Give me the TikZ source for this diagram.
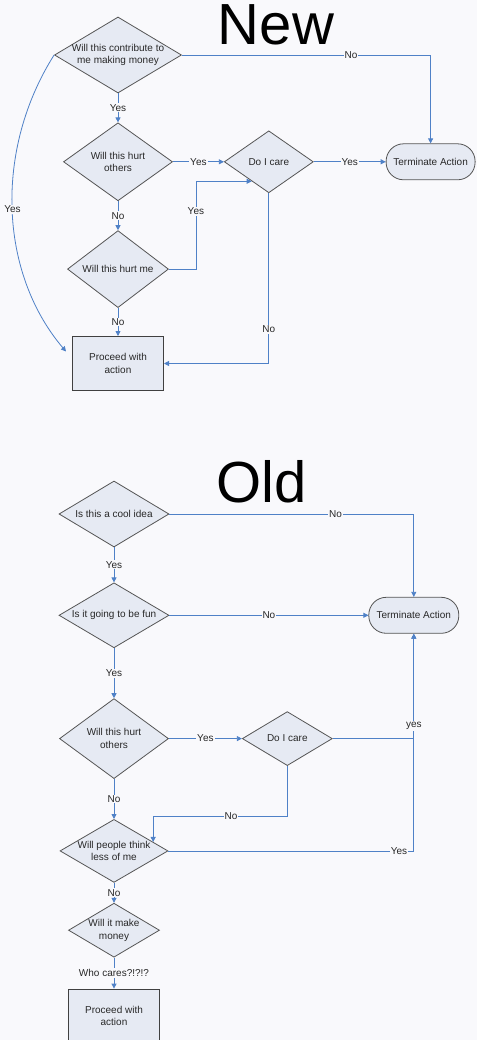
\documentclass[tikz,border=0pt]{standalone}
\usepackage{fontspec}
\setmainfont{Liberation Sans}
\usepackage{tikz}
\usetikzlibrary{arrows.meta,positioning,calc,shapes.geometric}
\usepackage{xcolor}
\definecolor{cPage}{RGB}{249,249,252}
\definecolor{cFill}{RGB}{230,234,243}
\definecolor{cLine}{RGB}{79,129,199}
\definecolor{cEdge}{RGB}{85,85,85}
\definecolor{cText}{RGB}{40,40,40}

\begin{document}
\begin{tikzpicture}[
  x=1pt, y=-1pt,
  font=\fontsize{10}{12.5}\selectfont,
  ask/.style 2 args={diamond, draw=cEdge, line width=0.8pt, fill=cFill,
    inner sep=0pt, minimum width=#1, minimum height=#2},
  qtext/.style={align=center, text=cText, inner sep=0pt},
  act/.style={rectangle, draw=black!75, line width=1pt, fill=cFill,
    text=cText, align=center, minimum width=91pt, minimum height=54pt},
  stopbox/.style={rectangle, rounded corners=17.5pt, draw=cEdge,
    line width=0.8pt, fill=cFill, text=cText, minimum width=89pt,
    minimum height=36pt},
  flow/.style={-{Triangle[length=5pt,width=5pt]}, line width=0.8pt, draw=cLine},
  lab/.style={fill=cPage, inner sep=1pt, text=cText},
  heading/.style={font=\fontsize{58}{60}\selectfont, text=black},
]
\useasboundingbox (0,0) rectangle (477,1040);
\fill[cPage] (0,0) rectangle (477,1040);

% new
\node[heading] (new) at (276,25) {New};
\node[ask={127pt}{76pt}, label={[qtext]center:Will this contribute to\\me making money}] (d1) at (118,55) {};
\node[ask={109pt}{78pt}, below=29pt of d1, label={[qtext]center:Will this hurt\\others}] (d2) {};
\node[ask={89pt}{62pt}, right=51pt of d2, label={[qtext]center:Do I care}] (d3) {};
\node[stopbox, right=72pt of d3] (term1) {Terminate Action};
\node[ask={101pt}{77pt}, below=29pt of d2, label={[qtext]center:Will this hurt me}] (d4) {};
\node[act, below=28pt of d4] (box1) {Proceed with\\action};
\coordinate (hurtme) at ($(d3.west)!0.62!(d3.south)$);
\coordinate (moneyyes) at ($(box1.west)+(-6,-12)$);
\draw[flow] (d1) -- node[lab]{Yes} (d2);
\draw[flow] (d1.east) -| node[lab, pos=0.34]{No} (term1.north);
\draw[flow] (d2) -- node[lab]{Yes} (d3);
\draw[flow] (d3) -- node[lab]{Yes} (term1);
\draw[flow] (d2) -- node[lab]{No} (d4);
\draw[flow] (d4.east) -- ++(27,0) |- node[lab, pos=0.33]{Yes} (hurtme);
\draw[flow] (d4) -- node[lab]{No} (box1);
\draw[flow] (d3.south) |- node[lab, pos=0.4]{No} (box1.east);
\draw[flow] (d1.west) .. controls +(-60,95) and +(-67,-79) .. node[lab]{Yes} (moneyyes);

% old
\node[heading] (old) at (262,482) {Old};
\node[ask={110pt}{66pt}, label={[qtext]center:Is this a cool idea}] (o1) at (114,514) {};
\node[ask={110pt}{65pt}, below=35pt of o1, label={[qtext]center:Is it going to be fun}] (o2) {};
\node[stopbox, minimum width=90pt, right=199pt of o2] (term2) {Terminate Action};
\node[ask={109pt}{80pt}, below=50pt of o2, label={[qtext]center:Will this hurt\\others}] (o3) {};
\node[ask={90pt}{54pt}, right=73pt of o3, label={[qtext]center:Do I care}] (o4) {};
\node[ask={108pt}{63pt}, below=40pt of o3, label={[qtext]center:Will people think\\less of me}] (o5) {};
\node[ask={91pt}{54pt}, below=20pt of o5, label={[qtext]center:Will it make\\money}] (o6) {};
\node[act, below=31pt of o6] (box2) {Proceed with\\action};
\coordinate (nocare) at ($(o5.north)!0.72!(o5.east)$);
\draw[flow] (o1) -- node[lab]{Yes} (o2);
\draw[flow] (o1.east) -| node[lab, pos=0.34]{No} (term2.north);
\draw[flow] (o2) -- node[lab]{No} (term2);
\draw[flow] (o2) -- node[lab]{Yes} (o3);
\draw[flow] (o3) -- node[lab]{Yes} (o4);
\draw[flow] (o5.east) -| node[lab, pos=0.47]{Yes} (term2.south);
\draw[flow] (o4.east) -| node[lab, pos=0.56]{yes} (term2.south);
\draw[flow] (o3) -- node[lab]{No} (o5);
\draw[flow] (o4.south) -- ++(0,50) -| node[lab, pos=0.21]{No} (nocare);
\draw[flow] (o5) -- node[lab]{No} (o6);
\draw[flow] (o6) -- node[lab]{Who cares?!?!?} (box2);
\end{tikzpicture}
\end{document}
